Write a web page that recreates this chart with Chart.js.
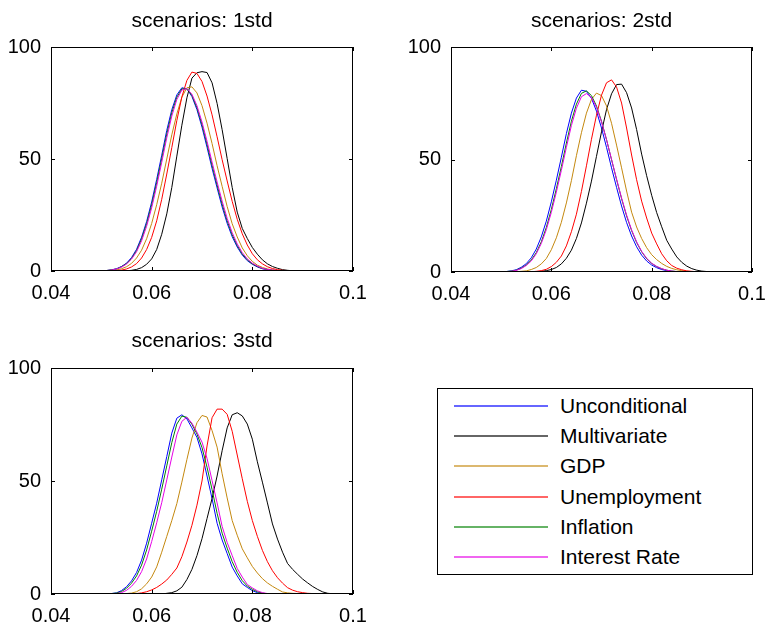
<!DOCTYPE html>
<html>
<head>
<meta charset="utf-8">
<script src="https://cdn.jsdelivr.net/npm/chart.js@4.4.0/dist/chart.umd.min.js"></script>
<style>
	body { margin: 0; background: #fff; }
	#fig { position: relative; width: 768px; height: 623px; overflow: hidden; font-family: 'Liberation Sans', Arial, sans-serif; }
	.panel { position: absolute; }
	#legend { position: absolute; left: 437px; top: 388px; width: 314px; height: 185px; border: 1px solid #000; background: #fff; }
	.item { position: absolute; left: 0; width: 100%; height: 24px; }
	.item .swatch { position: absolute; left: 16px; top: 11px; width: 94px; height: 2px; opacity: 0.6; }
	.item .text { position: absolute; left: 122px; top: 0; font-size: 21px; line-height: 24px; color: #000; white-space: nowrap; }
</style>
</head>
<body>
<div id="fig">
	<div class="panel" style="left:0;top:0;width:384px;height:312px"><canvas id="p1"></canvas></div>
	<div class="panel" style="left:384px;top:0;width:384px;height:312px"><canvas id="p2"></canvas></div>
	<div class="panel" style="left:0;top:320px;width:384px;height:303px"><canvas id="p3"></canvas></div>
	<div id="legend"></div>
</div>
<script>
// grid of x values (same for every curve)
const xs = [
	0.048, 0.049, 0.050, 0.051, 0.052, 0.053, 0.054, 0.055, 0.056, 0.057,
	0.058, 0.059, 0.060, 0.061, 0.062, 0.063, 0.064, 0.065, 0.066, 0.067,
	0.068, 0.069, 0.070, 0.071, 0.072, 0.073, 0.074, 0.075, 0.076, 0.077,
	0.078, 0.079, 0.080, 0.081, 0.082, 0.083, 0.084, 0.085, 0.086, 0.087,
	0.088, 0.089, 0.090, 0.091, 0.092, 0.093, 0.094, 0.095, 0.096, 0.097
];
const xTicks = [0.04, 0.06, 0.08, 0.1];
const yTicks = [0, 50, 100];

const seriesNames = ['Unconditional', 'Multivariate', 'GDP', 'Unemployment', 'Inflation', 'Interest Rate'];
const seriesColors = ['#0000ff', '#000000', '#c4880f', '#ff0000', '#008000', '#e600e6'];
const panelTitles = ['scenarios: 1std', 'scenarios: 2std', 'scenarios: 3std'];

// scenarios: 1std
const p1Unconditional = [
	0, 0, 0.1, 0.2, 0.5, 1.0, 2.0, 3.5, 6.0, 9.7,
	15.1, 22.1, 30.8, 40.9, 51.7, 62.8, 72.0, 78.6, 81.8, 81.3,
	77.9, 72.0, 64.2, 55.2, 45.8, 37.1, 28.6, 21.3, 15.3, 10.7,
	7.1, 4.6, 3.0, 1.8, 1.0, 0.6, 0.3, 0.2, 0.1, 0,
	0, 0, 0, 0, 0, 0, 0, 0, 0, 0
];
const p1Multivariate = [
	0, 0, 0, 0, 0, 0, 0, 0.1, 0.3, 0.7,
	1.5, 3.0, 5.4, 9.6, 16.4, 25.5, 37.3, 51.3, 65.1, 77.3,
	86.1, 88.5, 89.0, 88.6, 84.0, 74.8, 63.1, 50.2, 37.3, 26.3,
	19.0, 14.5, 10.5, 7.5, 5.0, 3.2, 2.0, 1.2, 0.6, 0.3,
	0.1, 0, 0, 0, 0, 0, 0, 0, 0, 0
];
const p1Gdp = [
	0, 0, 0.1, 0.1, 0.3, 0.5, 1.0, 1.9, 3.4, 5.8,
	9.3, 14.4, 21.2, 29.6, 39.2, 50.0, 60.8, 70.1, 77.6, 81.8,
	82.2, 79.5, 73.8, 66.0, 56.9, 47.0, 37.8, 28.8, 21.1, 15.2,
	10.3, 6.8, 4.3, 2.6, 1.6, 0.9, 0.5, 0.2, 0.1, 0.1,
	0, 0, 0, 0, 0, 0, 0, 0, 0, 0
];
const p1Unemployment = [
	0, 0, 0, 0, 0.1, 0.2, 0.4, 0.9, 1.8, 3.3,
	5.8, 9.6, 15.0, 22.4, 32.0, 43.3, 55.1, 67.2, 77.7, 85.1,
	88.8, 88.2, 84.6, 78.1, 69.7, 59.9, 49.7, 40.2, 31.1, 23.1,
	16.6, 11.6, 7.7, 5.0, 3.2, 1.9, 1.1, 0.6, 0.3, 0.2,
	0.1, 0, 0, 0, 0, 0, 0, 0, 0, 0
];
const p1Inflation = [
	0, 0, 0.1, 0.2, 0.5, 0.9, 1.9, 3.3, 5.6, 9.1,
	14.3, 21.1, 29.5, 39.4, 50.1, 61.1, 70.6, 77.6, 81.3, 81.4,
	78.4, 72.9, 65.4, 56.6, 47.2, 38.4, 29.9, 22.4, 16.2, 11.4,
	7.6, 5.0, 3.2, 2.0, 1.1, 0.7, 0.3, 0.2, 0.1, 0,
	0, 0, 0, 0, 0, 0, 0, 0, 0, 0
];
const p1InterestRate = [
	0, 0, 0.1, 0.2, 0.4, 0.9, 1.7, 3.1, 5.3, 8.6,
	13.5, 20.0, 28.2, 37.9, 48.5, 59.5, 69.2, 76.6, 80.8, 81.5,
	78.9, 73.8, 66.5, 57.9, 48.6, 39.7, 31.2, 23.5, 17.1, 12.1,
	8.2, 5.4, 3.5, 2.2, 1.2, 0.7, 0.4, 0.2, 0.1, 0,
	0, 0, 0, 0, 0, 0, 0, 0, 0, 0
];

// scenarios: 2std
const p2Unconditional = [
	0, 0, 0.1, 0.2, 0.5, 1.0, 2.1, 3.7, 6.3, 10.2,
	15.6, 22.6, 31.2, 40.8, 51.0, 61.5, 70.6, 77.3, 80.8, 80.3,
	77.2, 71.5, 64.0, 55.4, 46.3, 37.6, 29.3, 22.0, 16.0, 11.2,
	7.5, 4.9, 3.1, 1.9, 1.1, 0.6, 0.3, 0.2, 0.1, 0,
	0, 0, 0, 0, 0, 0, 0, 0, 0, 0
];
const p2Multivariate = [
	0, 0, 0, 0, 0, 0, 0, 0, 0.1, 0.1,
	0.3, 0.6, 1.1, 2.0, 3.6, 6.1, 9.7, 14.9, 21.8, 30.6,
	40.4, 51.4, 62.3, 72.2, 79.2, 83.3, 83.5, 79.7, 72.9, 63.3,
	52.4, 42.8, 34.1, 26.4, 20.1, 14.1, 10.2, 6.7, 4.3, 2.6,
	1.5, 0.8, 0.4, 0.2, 0.1, 0, 0, 0, 0, 0
];
const p2Gdp = [
	0, 0, 0, 0, 0.1, 0.1, 0.3, 0.5, 1.1, 2.0,
	3.6, 6.0, 9.9, 15.2, 22.1, 30.7, 40.6, 51.7, 61.9, 70.6,
	76.7, 79.5, 78.4, 73.8, 66.1, 56.4, 46.3, 36.0, 26.6, 20.0,
	14.9, 10.8, 7.7, 5.5, 3.8, 2.5, 1.6, 1.0, 0.6, 0.3,
	0.2, 0.1, 0, 0, 0, 0, 0, 0, 0, 0
];
const p2Unemployment = [
	0, 0, 0, 0, 0, 0, 0, 0.1, 0.1, 0.3,
	0.6, 1.2, 2.4, 4.3, 7.1, 11.6, 17.9, 25.7, 35.8, 47.2,
	59.0, 69.7, 78.6, 84.1, 85.4, 82.2, 75.1, 64.0, 52.0, 41.0,
	31.5, 24.0, 17.3, 12.5, 8.1, 5.0, 2.9, 1.7, 1.0, 0.5,
	0.3, 0.1, 0, 0, 0, 0, 0, 0, 0, 0
];
const p2Inflation = [
	0, 0, 0.1, 0.2, 0.4, 0.8, 1.7, 3.1, 5.3, 8.6,
	13.4, 19.8, 27.8, 37.0, 46.9, 57.3, 67.0, 74.6, 79.4, 80.5,
	78.4, 73.8, 67.0, 58.8, 49.9, 41.1, 32.6, 24.9, 18.4, 13.1,
	9.0, 5.9, 3.8, 2.4, 1.4, 0.8, 0.4, 0.2, 0.1, 0,
	0, 0, 0, 0, 0, 0, 0, 0, 0, 0
];
const p2InterestRate = [
	0, 0, 0.1, 0.1, 0.3, 0.7, 1.5, 2.9, 4.9, 8.1,
	12.7, 18.8, 26.5, 35.5, 45.2, 55.4, 65.1, 72.8, 77.9, 79.3,
	77.6, 73.2, 66.7, 58.8, 50.1, 41.3, 32.9, 25.3, 18.7, 13.4,
	9.2, 6.1, 3.9, 2.5, 1.5, 0.8, 0.4, 0.2, 0.1, 0.1,
	0, 0, 0, 0, 0, 0, 0, 0, 0, 0
];

// scenarios: 3std
const p3Unconditional = [
	0, 0, 0, 0.1, 0.2, 0.5, 1.5, 3.2, 5.8, 9.5,
	15.0, 22.5, 31.3, 40.2, 50.5, 60.8, 71.2, 77.8, 79.3, 77.5,
	73.5, 69.3, 62.0, 52.2, 42.2, 31.3, 23.9, 17.9, 11.9, 8.0,
	4.5, 2.9, 1.5, 0.6, 0.2, 0.1, 0, 0, 0, 0,
	0, 0, 0, 0, 0, 0, 0, 0, 0, 0
];
const p3Multivariate = [
	0, 0, 0, 0, 0, 0, 0, 0, 0, 0,
	0, 0, 0, 0, 0, 0.3, 0.6, 1.4, 3.0, 6.4,
	10.9, 17.0, 24.5, 33.4, 42.3, 52.2, 63.4, 73.5, 79.3, 80.2,
	78.8, 75.2, 68.5, 58.5, 49.5, 40.3, 31.0, 24.3, 18.5, 13.5,
	10.9, 8.7, 6.6, 4.9, 3.3, 2.0, 0.9, 0.3, 0.1, 0
];
const p3Gdp = [
	0, 0, 0, 0, 0, 0, 0.1, 0.2, 0.4, 1.0,
	2.3, 4.5, 7.5, 12.0, 18.5, 25.5, 32.5, 40.0, 49.5, 59.5,
	69.0, 75.8, 79.0, 78.3, 72.3, 65.0, 53.2, 42.5, 32.5, 26.0,
	20.0, 16.0, 12.2, 9.3, 6.8, 4.9, 3.4, 2.1, 0.9, 0.5,
	0.3, 0.2, 0.1, 0, 0, 0, 0, 0, 0, 0
];
const p3Unemployment = [
	0, 0, 0, 0, 0, 0, 0, 0, 0.1, 0.2,
	0.5, 1.0, 1.8, 2.9, 4.4, 6.2, 8.7, 11.5, 16.5, 23.0,
	30.4, 39.3, 50.0, 65.5, 78.0, 81.8, 81.8, 79.5, 72.0, 61.5,
	51.0, 41.0, 32.5, 25.5, 19.3, 14.3, 10.3, 7.2, 4.8, 2.8,
	1.7, 1.0, 0.6, 0.3, 0.2, 0.1, 0, 0, 0, 0
];
const p3Inflation = [
	0, 0, 0, 0.1, 0.2, 0.4, 1.1, 2.5, 4.8, 8.0,
	12.8, 19.5, 27.8, 36.6, 46.4, 56.7, 67.0, 75.2, 78.7, 78.2,
	75.1, 70.8, 64.8, 56.1, 46.2, 35.7, 26.9, 20.3, 14.3, 9.6,
	5.9, 3.5, 2.1, 1.0, 0.4, 0.1, 0, 0, 0, 0,
	0, 0, 0, 0, 0, 0, 0, 0, 0, 0
];
const p3InterestRate = [
	0, 0, 0, 0, 0.1, 0.2, 0.6, 1.6, 3.4, 6.0,
	9.9, 15.5, 23.2, 31.5, 40.4, 50.5, 60.6, 70.4, 76.4, 78.2,
	75.6, 71.6, 67.2, 60.0, 50.2, 40.3, 29.9, 22.8, 17.0, 11.3,
	7.5, 4.2, 2.7, 1.4, 0.6, 0.2, 0.1, 0, 0, 0,
	0, 0, 0, 0, 0, 0, 0, 0, 0, 0
];

const panel1 = [p1Unconditional, p1Multivariate, p1Gdp, p1Unemployment, p1Inflation, p1InterestRate];
const panel2 = [p2Unconditional, p2Multivariate, p2Gdp, p2Unemployment, p2Inflation, p2InterestRate];
const panel3 = [p3Unconditional, p3Multivariate, p3Gdp, p3Unemployment, p3Inflation, p3InterestRate];

const labelFont = { family: "'Liberation Sans', Arial, sans-serif", size: 20 };

// MATLAB style box with inward ticks on all four sides
const boxPlugin = {
	id: 'matlabBox',
	afterDraw(chart) {
		const ctx = chart.ctx;
		const a = chart.chartArea;
		const x = chart.scales.x;
		const y = chart.scales.y;
		ctx.save();
		ctx.strokeStyle = '#000';
		ctx.lineWidth = 1;
		ctx.strokeRect(a.left + 0.5, a.top + 0.5, a.right - a.left - 1, a.bottom - a.top - 1);
		ctx.beginPath();
		xTicks.forEach((v) => {
			const px = Math.round(x.getPixelForValue(v)) + 0.5;
			ctx.moveTo(px, a.bottom);
			ctx.lineTo(px, a.bottom - 4);
			ctx.moveTo(px, a.top);
			ctx.lineTo(px, a.top + 4);
		});
		yTicks.forEach((v) => {
			const py = Math.round(y.getPixelForValue(v)) + 0.5;
			ctx.moveTo(a.left, py);
			ctx.lineTo(a.left + 4, py);
			ctx.moveTo(a.right, py);
			ctx.lineTo(a.right - 4, py);
		});
		ctx.stroke();
		ctx.restore();
	},
};

function makePanel(id, title, series, pad, xHeight, titleBottom) {
	const datasets = series.map((vals, i) => ({
		label: seriesNames[i],
		data: xs.map((x, j) => ({ x: x, y: vals[j] })),
		borderColor: seriesColors[i],
		borderWidth: 1,
		pointRadius: 0,
		fill: false,
		tension: 0,
		order: series.length - i,
	}));

	new Chart(document.getElementById(id), {
		type: 'line',
		data: { datasets: datasets },
		options: {
			responsive: true,
			maintainAspectRatio: false,
			animation: false,
			layout: { padding: pad },
			plugins: {
				legend: { display: false },
				tooltip: { enabled: false },
				title: {
					display: true,
					text: title,
					fullSize: false,
					color: '#000',
					font: { family: labelFont.family, size: 21, weight: 'normal', lineHeight: 1.2 },
					padding: { top: 9, bottom: titleBottom },
				},
			},
			scales: {
				x: {
					type: 'linear',
					min: 0.04,
					max: 0.1,
					afterBuildTicks: (s) => { s.ticks = xTicks.map((v) => ({ value: v })); },
					afterFit: (s) => { s.height = xHeight; },
					grid: { display: false },
					border: { display: false },
					ticks: { color: '#000', font: labelFont, padding: 2, maxRotation: 0, callback: (v) => String(v) },
				},
				y: {
					type: 'linear',
					min: 0,
					max: 100,
					afterBuildTicks: (s) => { s.ticks = yTicks.map((v) => ({ value: v })); },
					afterFit: (s) => { s.width = 45; },
					grid: { display: false },
					border: { display: false },
					ticks: { color: '#000', font: labelFont, padding: 2, callback: (v) => String(v) },
				},
			},
		},
		plugins: [boxPlugin],
	});
}

makePanel('p1', panelTitles[0], panel1, { left: 6, right: 31, top: 0, bottom: 0 }, 41, 12.8);
makePanel('p2', panelTitles[1], panel2, { left: 22, right: 16, top: 0, bottom: 0 }, 40, 12.8);
makePanel('p3', panelTitles[2], panel3, { left: 6, right: 31, top: 0, bottom: 0 }, 29, 13.8);

// legend box
const legend = document.getElementById('legend');
seriesNames.forEach((name, i) => {
	const item = document.createElement('div');
	item.className = 'item';
	item.style.top = Math.round(5 + i * 30.2) + 'px';
	const swatch = document.createElement('div');
	swatch.className = 'swatch';
	swatch.style.background = seriesColors[i];
	const text = document.createElement('div');
	text.className = 'text';
	text.textContent = name;
	item.appendChild(swatch);
	item.appendChild(text);
	legend.appendChild(item);
});
</script>
</body>
</html>
